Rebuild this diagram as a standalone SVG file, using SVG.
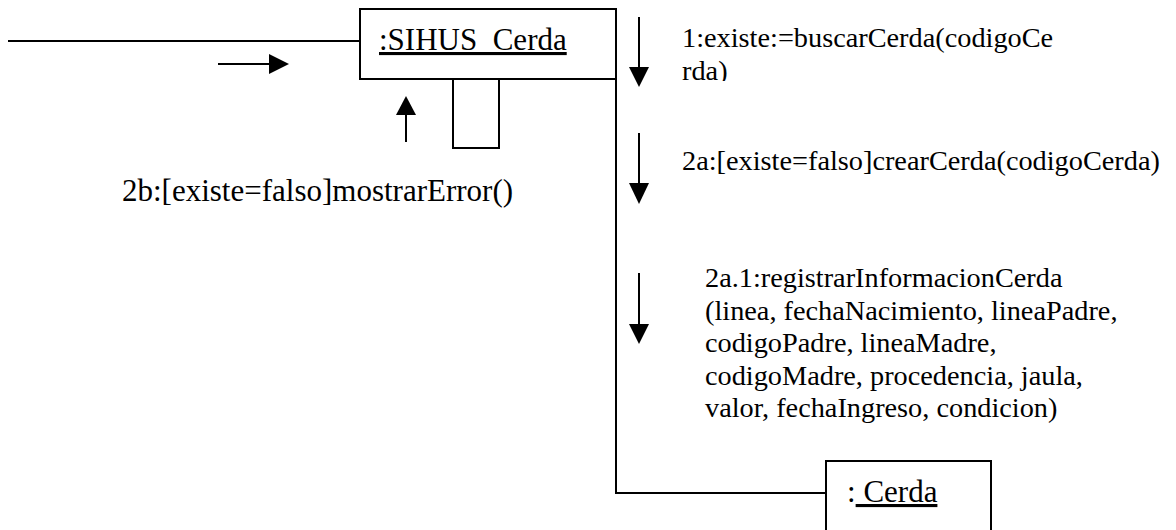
<svg xmlns="http://www.w3.org/2000/svg" width="1176" height="530" viewBox="0 0 1176 530">
<style>
.ln{fill:none;stroke:#000;stroke-width:2}
.box{fill:#fff;stroke:#000;stroke-width:2}
.t{font-family:"Liberation Serif","Times New Roman",serif;fill:#000}
.msg{font-size:28.3px}
.big{font-size:31px}
.ah{fill:#000;stroke:none}
</style>
<defs>
<clipPath id="clip1"><rect x="670" y="0" width="506" height="81"/></clipPath>
</defs>
<rect width="1176" height="530" fill="#fff"/>
<g id="connectors">
<line class="ln" x1="8" y1="41" x2="360" y2="41"/>
<path class="ln" d="M616,79 V493 H826"/>
<path class="ln" d="M453,79 V148 H499 V79"/>
</g>
<g id="messages">
<line class="ln" x1="218" y1="64" x2="272" y2="64"/>
<polygon class="ah" points="269,54 289,64 269,74"/>
<line class="ln" x1="406" y1="142" x2="406" y2="112"/>
<polygon class="ah" points="396,115 406,96 416,115"/>
<line class="ln" x1="639" y1="17" x2="639" y2="70"/>
<polygon class="ah" points="629,67 649,67 639,87"/>
<line class="ln" x1="639" y1="133" x2="639" y2="186"/>
<polygon class="ah" points="629,183 649,183 639,204"/>
<line class="ln" x1="639" y1="273" x2="639" y2="327"/>
<polygon class="ah" points="629,324 649,324 639,344"/>
<g clip-path="url(#clip1)">
<text class="t msg" x="682" y="47">1:existe:=buscarCerda(codigoCe</text>
<text class="t msg" x="682" y="79.5">rda)</text>
</g>
<text class="t msg" x="682" y="170">2a:[existe=falso]crearCerda(codigoCerda)</text>
<text class="t msg" x="705" y="287">2a.1:registrarInformacionCerda</text>
<text class="t msg" x="705" y="319.5">(linea, fechaNacimiento, lineaPadre,</text>
<text class="t msg" x="705" y="352">codigoPadre, lineaMadre,</text>
<text class="t msg" x="705" y="384.5">codigoMadre, procedencia, jaula,</text>
<text class="t msg" x="705" y="417">valor, fechaIngreso, condicion)</text>
<text class="t big" x="122" y="201">2b:[existe=falso]mostrarError()</text>
</g>
<g id="node-sihus">
<rect class="box" x="360" y="9" width="256" height="70"/>
<text class="t big" x="379" y="50" text-decoration="underline">:SIHUS_Cerda</text>
</g>
<g id="node-cerda">
<rect class="box" x="826" y="461" width="165" height="80"/>
<text class="t big" x="847" y="502">:<tspan text-decoration="underline"> Cerda</tspan></text>
</g>
</svg>
